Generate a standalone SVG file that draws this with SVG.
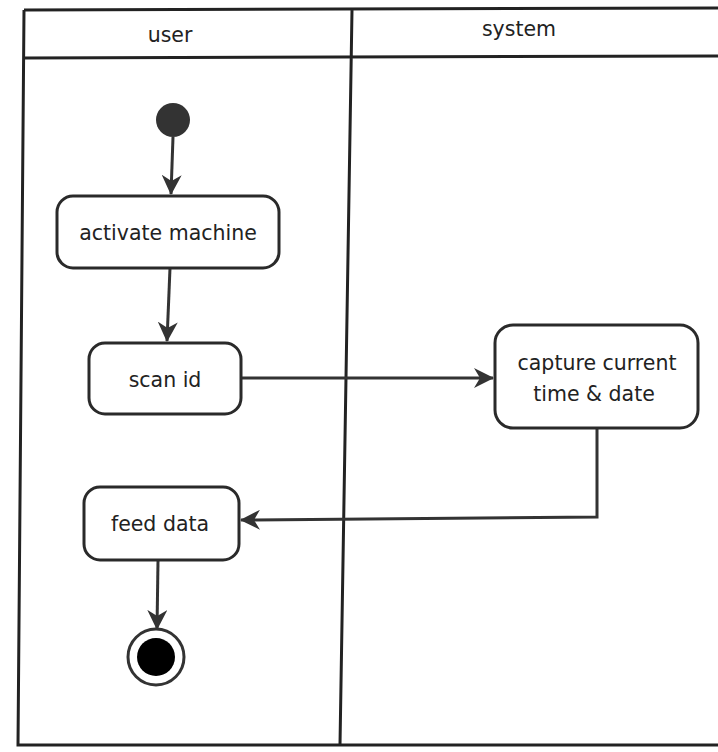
<svg xmlns="http://www.w3.org/2000/svg" width="718" height="752" viewBox="0 0 718 752">
<style>
.frame{fill:none;stroke:#222;stroke-width:3}
.box{fill:#fff;stroke:#2a2a2a;stroke-width:3}
.lbl{font-family:"DejaVu Sans",Verdana,sans-serif;font-size:20.5px;fill:#222;text-anchor:middle}
.edge{fill:none;stroke:#333;stroke-width:3}
</style>
<defs>
<marker id="arr" viewBox="0 0 20 20" refX="19" refY="10" markerWidth="20" markerHeight="20" markerUnits="userSpaceOnUse" orient="auto">
<path d="M0,0 L20,10 L0,20 L6,10 Z" fill="#333"/>
</marker>
</defs>
<g id="frame">
<path class="frame" d="M24,10 L718,8 M24,10 L18,745 L718,745 M24,58 L718,56 M352,10 L340,745"/>
<text class="lbl" x="170" y="42">user</text>
<text class="lbl" x="519" y="36">system</text>
</g>
<g id="connectors">
<path class="edge" d="M173,137 L171,194" marker-end="url(#arr)"/>
<path class="edge" d="M170,268 L167,341" marker-end="url(#arr)"/>
<path class="edge" d="M242,378 L493,378" marker-end="url(#arr)"/>
<path class="edge" d="M597,428 L597,517 L241,520" marker-end="url(#arr)"/>
<path class="edge" d="M158,561 L157,629" marker-end="url(#arr)"/>
</g>
<g id="start">
<circle cx="173" cy="120" r="17" fill="#333"/>
</g>
<g id="activate">
<rect class="box" x="57" y="196" width="222" height="72" rx="16"/>
<text class="lbl" x="168" y="240">activate machine</text>
</g>
<g id="scan">
<rect class="box" x="89" y="343" width="152" height="71" rx="16"/>
<text class="lbl" x="165" y="387">scan id</text>
</g>
<g id="capture">
<rect class="box" x="495" y="325" width="203" height="103" rx="18"/>
<text class="lbl" x="597" y="370">capture current</text>
<text class="lbl" x="594" y="401">time &amp; date</text>
</g>
<g id="feed">
<rect class="box" x="84" y="487" width="155" height="73" rx="16"/>
<text class="lbl" x="160" y="531">feed data</text>
</g>
<g id="end">
<circle cx="156" cy="657" r="28" fill="#fff" stroke="#333" stroke-width="3"/>
<circle cx="156" cy="657" r="19" fill="#000"/>
</g>
</svg>
